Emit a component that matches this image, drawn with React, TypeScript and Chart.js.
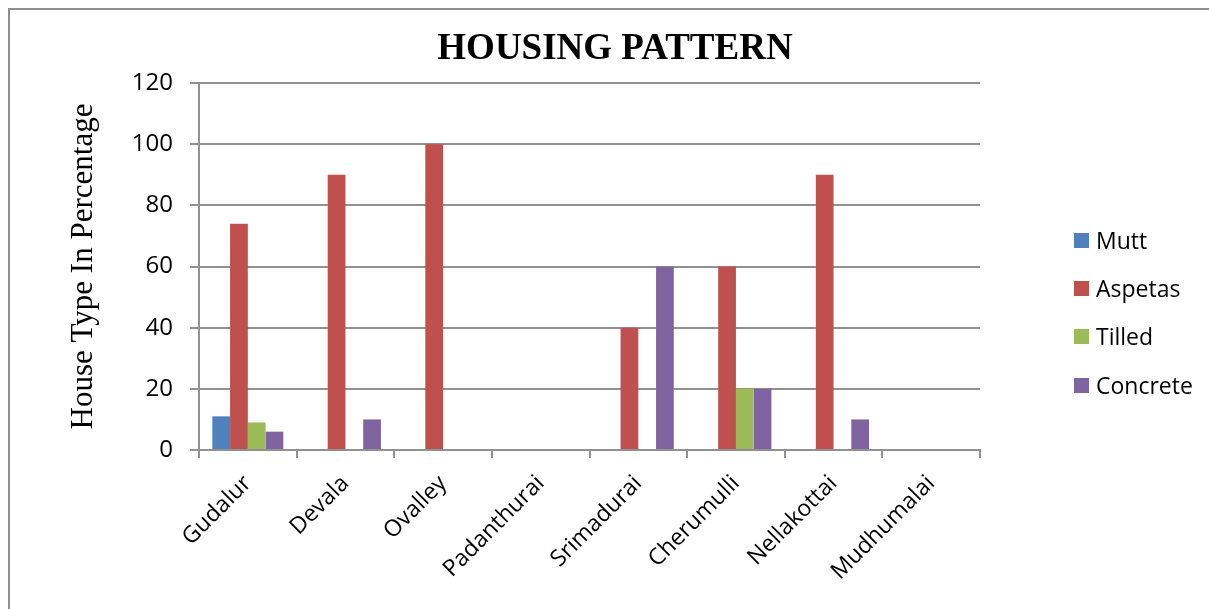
import React, { useEffect, useRef } from "react";
import { Chart, registerables } from "chart.js";

Chart.register(...registerables);

const categories = ["Gudalur", "Devala", "Ovalley", "Padanthurai", "Srimadurai", "Cherumulli", "Nellakottai", "Mudhumalai"];
const mutt = [11, 0, 0, 0, 0, 0, 0, 0];
const aspetas = [74, 90, 100, 0, 40, 60, 90, 0];
const tilled = [9, 0, 0, 0, 0, 20, 0, 0];
const concrete = [6, 10, 0, 0, 60, 20, 10, 0];
const seriesNames = ["Mutt", "Aspetas", "Tilled", "Concrete"];
const seriesColors = ["#4F81BD", "#C0504D", "#9BBB59", "#8064A2"];
const yMin = 0;
const yMax = 120;
const yStep = 20;
const chartTitle = "HOUSING PATTERN";
const yTitle = "House Type In Percentage";

const GRID = "#919191";

export default function App() {
  const ref = useRef<HTMLCanvasElement | null>(null);

  useEffect(() => {
    if (!ref.current) return;
    const seriesData = [mutt, aspetas, tilled, concrete];
    const chart = new Chart(ref.current, {
      type: "bar",
      data: {
        labels: categories,
        datasets: seriesNames.map((name, i) => ({
          label: name,
          data: seriesData[i],
          backgroundColor: seriesColors[i],
          borderWidth: 0,
          categoryPercentage: 0.727,
          barPercentage: 1.0,
          yAxisID: "y",
        })),
      },
      options: {
        responsive: false,
        animation: false,
        layout: { padding: { left: 21, right: 0, top: 0, bottom: 0 } },
        plugins: {
          legend: { display: false },
          tooltip: { enabled: false },
          title: {
            display: true,
            text: chartTitle,
            color: "#000",
            font: { family: "'Liberation Serif', 'Times New Roman', serif", size: 37, weight: "bold" },
            padding: { top: 27, bottom: 11.6 },
          },
        },
        scales: {
          x: {
            grid: { display: true, drawOnChartArea: false, drawTicks: true, tickLength: 8, offset: true, color: GRID, lineWidth: 2 },
            border: { display: true, color: GRID, width: 2 },
            ticks: {
              autoSkip: false,
              minRotation: 45,
              maxRotation: 45,
              padding: 12,
              color: "#000",
              font: { family: "'Open Sans', sans-serif", size: 23 },
            },
            afterFit: (s: any) => {
              s.height = 159;
            },
          },
          y: {
            position: "left",
            min: yMin,
            max: yMax,
            grid: { display: true, drawTicks: true, tickLength: 9, color: GRID, lineWidth: 2 },
            border: { display: true, color: GRID, width: 2 },
            ticks: {
              stepSize: yStep,
              padding: 17,
              color: "#000",
              font: { family: "'Open Sans', sans-serif", size: 24 },
            },
            title: {
              display: true,
              text: yTitle,
              color: "#000",
              font: { family: "'Liberation Serif', 'Times New Roman', serif", size: 31 },
              padding: { top: 44, bottom: 0 },
            },
            afterFit: (s: any) => {
              s.width = 178;
            },
          },
          y2: {
            type: "linear",
            position: "right",
            display: true,
            grid: { display: false, drawTicks: false },
            border: { display: false },
            ticks: { display: false },
            afterFit: (s: any) => {
              s.width = 229;
            },
          },
        },
      } as any,
    });
    return () => chart.destroy();
  }, []);

  return (
    <div style={{ position: "fixed", left: 0, top: 0, width: 1209, height: 609, overflow: "hidden", background: "#fff" }}>
      <canvas ref={ref} width={1209} height={609} style={{ position: "absolute", left: 0, top: 0, width: 1209, height: 609 }} />
      <div
        style={{
          position: "absolute",
          left: 8,
          top: 8,
          width: 1220,
          height: 620,
          borderLeft: "2px solid #8f8f8f",
          borderTop: "2px solid #8f8f8f",
          pointerEvents: "none",
        }}
      />
      {seriesNames.map((name, i) => (
        <div
          key={name}
          style={{
            position: "absolute",
            left: 1074,
            top: 233 + i * 48.2,
            height: 15,
            display: "flex",
            alignItems: "center",
            fontFamily: "'Open Sans', sans-serif",
            fontSize: 23,
            color: "#000",
            whiteSpace: "nowrap",
          }}
        >
          <span style={{ display: "inline-block", width: 15, height: 15, background: seriesColors[i], marginRight: 7 }} />
          <span style={{ lineHeight: "15px" }}>{name}</span>
        </div>
      ))}
    </div>
  );
}
